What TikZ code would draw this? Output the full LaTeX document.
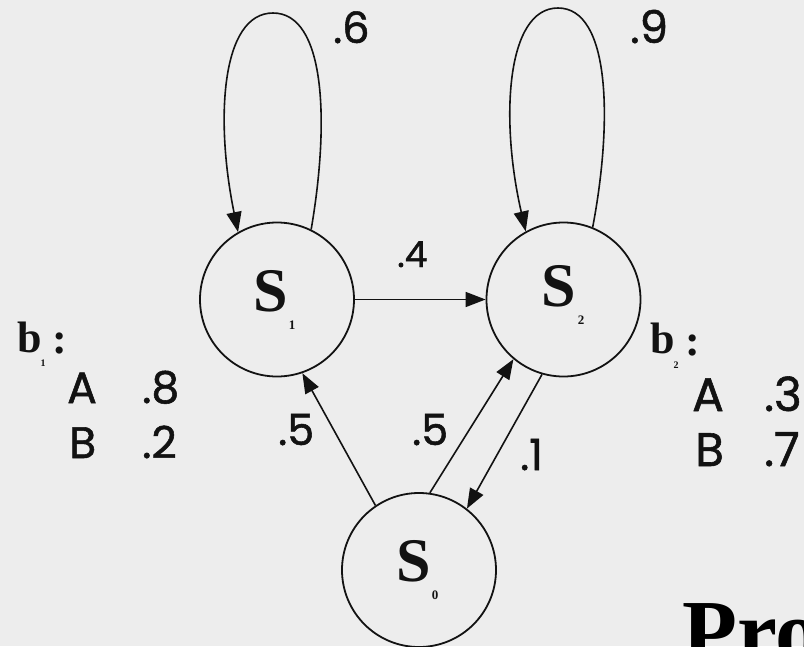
\documentclass[tikz,border=0pt]{standalone}
\usepackage{fontspec}
\setmainfont{Liberation Serif}
\newfontfamily\numfont{Poppins}[FakeBold=1.2]
\usetikzlibrary{arrows.meta}
\definecolor{paper}{RGB}{237,237,237}
\definecolor{ink}{RGB}{18,18,18}
\begin{document}
\begin{tikzpicture}[x=1pt,y=-1pt,
  state/.style={circle,draw=ink,line width=1.8pt,minimum size=154pt,inner sep=0pt},
  link/.style={draw=ink,line width=1.6pt,-{Triangle[length=20pt,width=15pt]}},
  bigS/.style={font=\fontsize{62}{62}\selectfont\bfseries,text=ink,inner sep=0pt},
  subidx/.style={font=\fontsize{13}{13}\selectfont\bfseries,text=ink,inner sep=0pt},
  prob/.style={font=\numfont\fontsize{#1}{#1}\selectfont,text=ink,inner sep=0pt,anchor=base west},
  prob/.default=43,
  emis/.style={font=\fontsize{44}{44}\selectfont\bfseries,text=ink,inner sep=0pt,anchor=base west},
  title/.style={font=\fontsize{90}{90}\selectfont\bfseries,text=black,inner sep=0pt,anchor=base west}]
\useasboundingbox (0,0) rectangle (804,646);
\fill[paper] (0,0) rectangle (804,646);
\clip (0,0) rectangle (804,646);

% states
\node[state] (s1) at (277,299.5) {};
\node[state] (s2) at (563.5,299.5) {};
\node[state] (s0) at (419,570) {};

\node[bigS] (s1name) at (271,291) {S};
\node[subidx] (s1idx) at (292,325) {1};
\node[bigS] (s2name) at (559,286) {S};
\node[subidx] (s2idx) at (581,320) {2};
\node[bigS] (s0name) at (414,561) {S};
\node[subidx] (s0idx) at (435,595) {0};

% self loops
\draw[link] (s1.64) .. controls (330,120) and (325,13) .. (273,13)
            .. controls (221,13) and (215,120) .. (s1.120);
\draw[link] (s2.68) .. controls (613,120) and (610,8) .. (558,8)
            .. controls (506,8) and (500,120) .. (s2.119);

% transitions
\draw[link] (s1.east) -- (s2.west);
\draw[link] (s0.124) -- (s1.-71);
\draw[link] (s0.82) -- (s2.230);
\draw[link] (s2.254) -- (s0.52);

% transition probabilities
\node[prob=43] (p11) at (333,43) {.6};
\node[prob=45] (p22) at (630,43) {.9};
\node[prob=36] (p12) at (397,267) {.4};
\node[prob=43] (p01) at (278,445) {.5};
\node[prob=43] (p02) at (412,445) {.5};
\node[prob=43] (p20) at (520,470) {.1};

% emission table of state 1
\node[emis] (b1) at (17,352) {b};
\node[subidx,font=\fontsize{10}{10}\selectfont\bfseries] (b1idx) at (43,363) {1};
\node[emis] (b1colon) at (52,353) {:};
\node[prob=44] (b1A) at (67,403) {A};
\node[prob=44] (b1Ap) at (142,403) {.8};
\node[prob=44] (b1B) at (69,458) {B};
\node[prob=44] (b1Bp) at (142,458) {.2};

% emission table of state 2
\node[emis] (b2) at (650,353) {b};
\node[subidx,font=\fontsize{10}{10}\selectfont\bfseries] (b2idx) at (676,365) {2};
\node[emis] (b2colon) at (685,355) {:};
\node[prob=47] (b2A) at (692,411) {A};
\node[prob=47] (b2Ap) at (764,411) {.3};
\node[prob=47] (b2B) at (695,466) {B};
\node[prob=47] (b2Bp) at (764,466) {.7};

% heading running off the lower right edge
\node[title] (head) at (682,662) {Pro};
\end{tikzpicture}
\end{document}
